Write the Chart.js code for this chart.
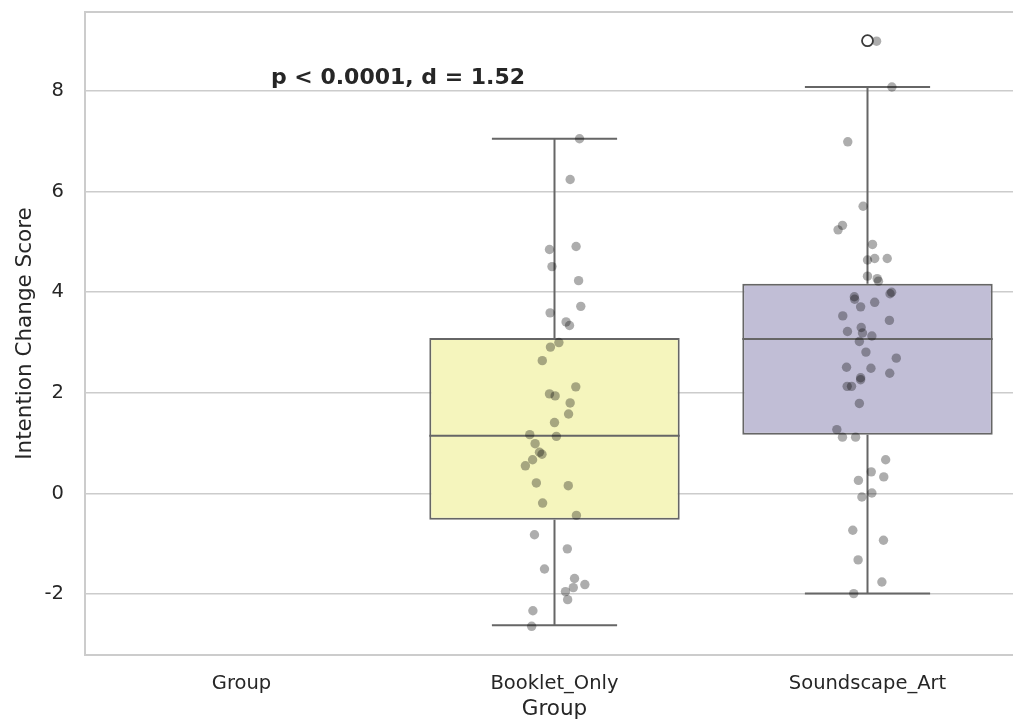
<!DOCTYPE html>
<html>
<head>
<meta charset="utf-8">
<script src="https://cdn.jsdelivr.net/npm/chart.js@4"></script>
<style>
  html, body { margin: 0; padding: 0; overflow: hidden; background: #fff; }
</style>
</head>
<body>
<!-- the figure is cut off on the right, so the canvas is a bit wider than the window -->
<canvas id="BoxChart" width="1024" height="722"></canvas>
<script>
// categories on the x axis ("Group" has no data)
var categories = ["Group", "Booklet_Only", "Soundscape_Art"];
var yTicks = [-2, 0, 2, 4, 6, 8];

// box statistics per category
var boxLow    = [null, -2.62, -1.99];
var boxQ1     = [null, -0.52, 1.17];
var boxMedian = [null, 1.15, 3.07];
var boxQ3     = [null, 3.09, 4.17];
var boxHigh   = [null, 7.05, 8.08];
var boxFill   = ["rgb(143,205,194)", "rgb(245,245,189)", "rgb(193,190,214)"];

// raw scores (strip plot) and their horizontal jitter
var bookletScores = [7.05, 6.24, 4.85, 4.91, 4.51, 4.23, 3.72, 3.59, 3.41, 3.34,
  3.00, 2.91, 2.64, 2.12, 1.98, 1.94, 1.80, 1.58, 1.41, 1.17,
  1.135, 0.99, 0.82, 0.78, 0.67, 0.55, 0.21, 0.155, -0.19, -0.435,
  -0.82, -1.10, -1.50, -1.69, -1.81, -1.87, -1.95, -2.11, -2.33, -2.64];
var bookletJitter = [0.080, 0.050, -0.016, 0.069, -0.008, 0.077, 0.084, -0.014, 0.037, 0.048,
  0.014, -0.013, -0.039, 0.068, -0.016, 0.002, 0.050, 0.045, 0.000, -0.079,
  0.006, -0.062, -0.048, -0.040, -0.070, -0.093, -0.058, 0.044, -0.038, 0.070,
  -0.064, 0.041, -0.032, 0.064, 0.097, 0.060, 0.035, 0.042, -0.069, -0.073];

var soundScores = [8.99, 8.08, 6.99, 5.71, 5.33, 5.24, 4.95, 4.64, 4.67, 4.67,
  4.32, 4.27, 4.22, 4.00, 3.97, 3.91, 3.86, 3.80, 3.71, 3.53,
  3.44, 3.30, 3.22, 3.19, 3.13, 3.02, 2.81, 2.69, 2.51, 2.49,
  2.39, 2.30, 2.26, 2.13, 2.13, 1.79, 1.27, 1.12, 1.12, 0.67,
  0.43, 0.33, 0.26, 0.01, -0.07, -0.73, -0.93, -1.32, -1.76, -1.99];
var soundJitter = [0.029, 0.078, -0.063, -0.014, -0.080, -0.094, 0.016, 0.000, 0.023, 0.063,
  0.000, 0.031, 0.035, 0.077, 0.072, -0.042, -0.041, 0.023, -0.022, -0.079,
  0.070, -0.020, -0.064, -0.016, 0.014, -0.026, -0.005, 0.092, -0.067, 0.011,
  0.071, -0.022, -0.022, -0.065, -0.051, -0.026, -0.098, -0.080, -0.038, 0.058,
  0.012, 0.052, -0.029, 0.014, -0.018, -0.047, 0.051, -0.030, 0.046, -0.044];

// fliers
var outlierCategory = [2];
var outlierValues = [9.0];

var annotationText = "p < 0.0001, d = 1.52";

var boxData = [];
for (var i = 0; i < categories.length; i++) {
  if (boxQ1[i] !== null) boxData.push({ x: i, y: [boxQ1[i], boxQ3[i]] });
}
var stripData = [];
bookletScores.forEach(function(v, k) { stripData.push({ x: 1 + bookletJitter[k], y: v }); });
soundScores.forEach(function(v, k) { stripData.push({ x: 2 + soundJitter[k], y: v }); });
var outlierData = outlierValues.map(function(v, k) { return { x: outlierCategory[k], y: v }; });

var lineGray = "#666666";
var textColor = "#262626";
var font = "'DejaVu Sans', sans-serif";

function noPadding(scale) {
  scale.paddingTop = 0;
  scale.paddingBottom = 0;
  scale.paddingLeft = 0;
  scale.paddingRight = 0;
}

// whiskers, caps and medians drawn right after the boxes
var whiskerPlugin = {
  id: "whiskers",
  afterDatasetDraw: function(chart, args) {
    if (args.meta.type !== "bar") return;
    var c = chart.ctx, xs = chart.scales.x, ys = chart.scales.y;
    c.save();
    c.strokeStyle = lineGray;
    c.lineWidth = 2;
    for (var i = 0; i < categories.length; i++) {
      if (boxQ1[i] === null) continue;
      var cx = xs.getPixelForValue(i);
      var capL = xs.getPixelForValue(i - 0.2), capR = xs.getPixelForValue(i + 0.2);
      var boxL = xs.getPixelForValue(i - 0.4), boxR = xs.getPixelForValue(i + 0.4);
      c.beginPath();
      c.moveTo(cx, ys.getPixelForValue(boxQ3[i]));
      c.lineTo(cx, ys.getPixelForValue(boxHigh[i]));
      c.moveTo(cx, ys.getPixelForValue(boxQ1[i]));
      c.lineTo(cx, ys.getPixelForValue(boxLow[i]));
      c.moveTo(capL, ys.getPixelForValue(boxHigh[i]));
      c.lineTo(capR, ys.getPixelForValue(boxHigh[i]));
      c.moveTo(capL, ys.getPixelForValue(boxLow[i]));
      c.lineTo(capR, ys.getPixelForValue(boxLow[i]));
      c.moveTo(boxL, ys.getPixelForValue(boxMedian[i]));
      c.lineTo(boxR, ys.getPixelForValue(boxMedian[i]));
      c.stroke();
    }
    c.restore();
  }
};

// frame around the plot area and the significance note
var framePlugin = {
  id: "frame",
  beforeDatasetsDraw: function(chart) {
    var a = chart.chartArea, c = chart.ctx;
    c.save();
    c.strokeStyle = "#cccccc";
    c.lineWidth = 2;
    c.strokeRect(a.left, a.top, a.right - a.left, a.bottom - a.top);
    c.restore();
  },
  afterDraw: function(chart) {
    var c = chart.ctx, xs = chart.scales.x, ys = chart.scales.y;
    c.save();
    c.font = "bold 22px " + font;
    c.fillStyle = textColor;
    c.textAlign = "center";
    c.textBaseline = "middle";
    c.fillText(annotationText, xs.getPixelForValue(0.5), ys.getPixelForValue(8.25));
    c.restore();
  }
};

var ctx = document.getElementById("BoxChart");
var BoxChart = new Chart(ctx, {
  data: {
    datasets: [{
      type: "scatter",
      label: "scores",
      data: stripData,
      order: 1,
      pointRadius: 4.7,
      pointBorderWidth: 0,
      pointBackgroundColor: "rgba(0,0,0,0.32)",
      pointHoverRadius: 4.7
    }, {
      type: "scatter",
      label: "outliers",
      data: outlierData,
      order: 0,
      pointRadius: 5.5,
      pointBorderWidth: 1.8,
      pointBorderColor: "#3a3a3a",
      pointBackgroundColor: "rgba(255,255,255,0)"
    }, {
      type: "bar",
      label: "box",
      data: boxData,
      order: 2,
      backgroundColor: boxData.map(function(d) { return boxFill[d.x]; }),
      borderColor: lineGray,
      borderWidth: 2,
      borderSkipped: false,
      categoryPercentage: 0.8,
      barPercentage: 1
    }]
  },
  plugins: [whiskerPlugin, framePlugin],
  options: {
    responsive: false,
    animation: false,
    layout: { autoPadding: false, padding: { top: 12, right: 0, left: 0, bottom: 0 } },
    plugins: {
      legend: { display: false },
      tooltip: { enabled: false }
    },
    scales: {
      x: {
        type: "linear",
        offset: false,
        min: -0.5,
        max: 2.5,
        afterBuildTicks: function(scale) {
          scale.ticks = categories.map(function(c, i) { return { value: i }; });
        },
        afterFit: function(scale) { scale.height = 67; noPadding(scale); },
        grid: { display: false, drawTicks: false, offset: false },
        border: { display: false },
        ticks: {
          padding: 17,
          color: textColor,
          font: { family: font, size: 19.5 },
          callback: function(value) { return categories[value]; }
        },
        title: {
          display: true,
          text: "Group",
          color: textColor,
          font: { family: font, size: 21.5 },
          padding: { top: 0, bottom: 0 }
        }
      },
      y: {
        type: "linear",
        min: -3.21,
        max: 9.57,
        afterBuildTicks: function(scale) {
          scale.ticks = yTicks.map(function(v) { return { value: v }; });
        },
        afterFit: function(scale) { scale.width = 85; noPadding(scale); },
        grid: { color: "#cccccc", lineWidth: 1.5, drawTicks: false },
        border: { display: false },
        ticks: {
          padding: 21,
          color: textColor,
          font: { family: font, size: 19.5 },
          callback: function(value) { return value; }
        },
        title: {
          display: true,
          text: "Intention Change Score",
          color: textColor,
          font: { family: font, size: 21.5 },
          padding: { top: 13, bottom: 0 }
        }
      }
    }
  }
});
</script>
</body>
</html>
